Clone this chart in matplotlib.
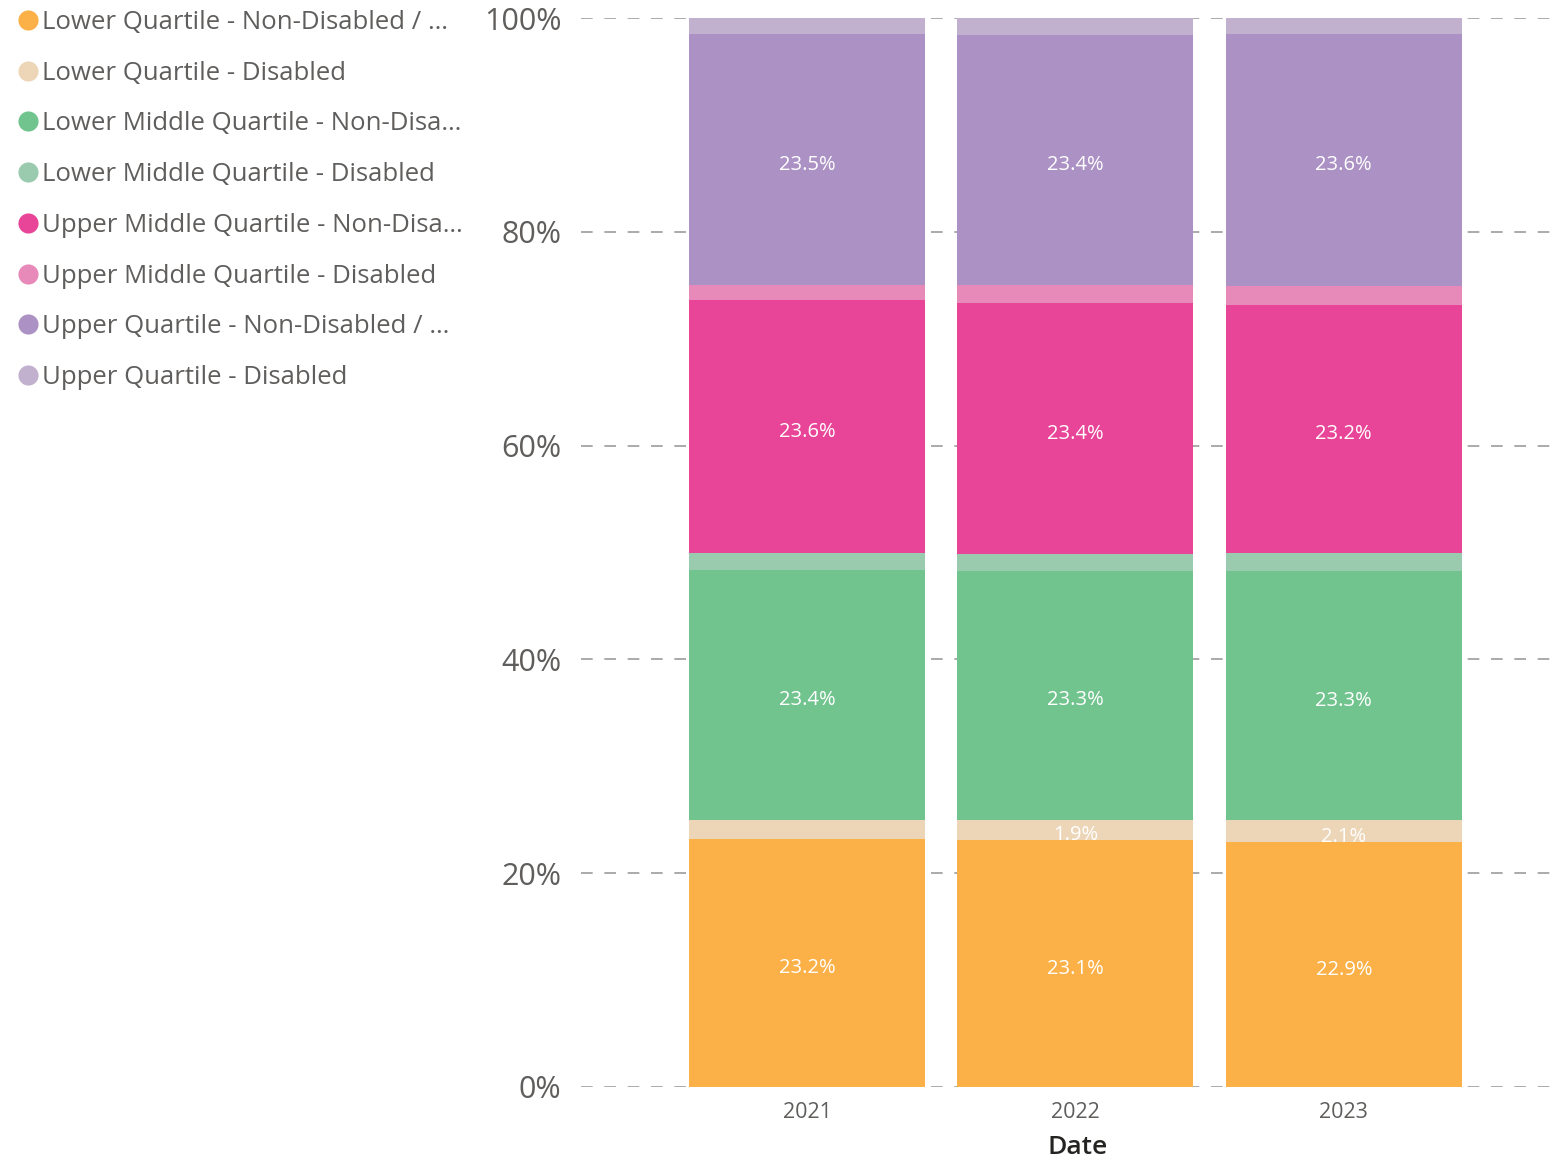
import matplotlib
matplotlib.use("Agg")
import matplotlib.pyplot as plt
from matplotlib.lines import Line2D
from matplotlib.ticker import FixedLocator, FuncFormatter
from matplotlib.transforms import offset_copy
import numpy as np

# Share of staff (%) in each pay quartile, split by disability status
years = ["2021", "2022", "2023"]
series_names = [
    "Lower Quartile - Non-Disabled / …",
    "Lower Quartile - Disabled",
    "Lower Middle Quartile - Non-Disa…",
    "Lower Middle Quartile - Disabled",
    "Upper Middle Quartile - Non-Disa…",
    "Upper Middle Quartile - Disabled",
    "Upper Quartile - Non-Disabled / …",
    "Upper Quartile - Disabled",
]
lower_non_disabled = [23.2, 23.1, 22.9]
lower_disabled = [1.8, 1.9, 2.1]
lower_middle_non_disabled = [23.4, 23.3, 23.3]
lower_middle_disabled = [1.6, 1.6, 1.7]
upper_middle_non_disabled = [23.6, 23.4, 23.2]
upper_middle_disabled = [1.4, 1.7, 1.8]
upper_non_disabled = [23.5, 23.4, 23.6]
upper_disabled = [1.5, 1.6, 1.5]
y_ticks = [0, 20, 40, 60, 80, 100]

series_values = [
    lower_non_disabled, lower_disabled,
    lower_middle_non_disabled, lower_middle_disabled,
    upper_middle_non_disabled, upper_middle_disabled,
    upper_non_disabled, upper_disabled,
]
colors = ["#FBB147", "#EDD6B7", "#72C48F", "#9BCBAE",
          "#E84599", "#E78AB9", "#AC91C4", "#C1B1CE"]
# which series carry value labels (small segments only when they fit)
labelled = [True, True, True, False, True, False, True, False]
min_label_value = 1.85

plt.rcParams["font.family"] = ["Open Sans", "DejaVu Sans"]
text_grey = "#605E5C"

W, H = 1555, 1159
fig = plt.figure(figsize=(W / 100, H / 100), dpi=100)
ax_left, ax_right, ax_top, ax_bottom = 581, 1555, 18, 1087
ax = fig.add_axes([ax_left / W, 1 - ax_bottom / H,
                   (ax_right - ax_left) / W, (ax_bottom - ax_top) / H])

x = np.arange(len(years))
vals = np.array(series_values, dtype=float)
totals = vals.sum(axis=0)
pct = vals / totals * 100
bottom = np.zeros(len(years))
bar_width = 0.879
label_tf = offset_copy(ax.transData, fig=fig, x=0, y=-2, units="points")
for i, name in enumerate(series_names):
    ax.bar(x, pct[i], bottom=bottom, width=bar_width, color=colors[i],
           label=name, zorder=2, linewidth=0)
    if labelled[i]:
        for j in range(len(years)):
            if vals[i, j] >= min_label_value:
                ax.text(x[j], bottom[j] + pct[i, j] / 2, f"{vals[i, j]:.1f}%",
                        ha="center", va="center_baseline", color="white",
                        fontsize=14.5, zorder=3, transform=label_tf)
    bottom += pct[i]

ax.set_ylim(0, 100)
ax.set_xlim(-0.842, 2.787)
ax.yaxis.set_major_locator(FixedLocator(y_ticks))
ax.yaxis.set_major_formatter(FuncFormatter(lambda v, p: f"{v:.0f}%"))
ax.set_xticks(x)
ax.set_xticklabels(years)
ax.tick_params(axis="y", length=0, pad=14, labelsize=22, labelcolor=text_grey)
ax.tick_params(axis="x", length=0, pad=11, labelsize=15.5, labelcolor=text_grey)
for sp in ax.spines.values():
    sp.set_visible(False)
ax.grid(axis="y", color="#AAAAAA", linestyle=(0, (6, 6)), linewidth=1.4, zorder=1)
ax.set_axisbelow(True)

ax.set_xlabel("Date", fontsize=19, color="#252423", fontweight="semibold")
ax.xaxis.set_label_coords((1078 - ax_left) / (ax_right - ax_left),
                          -(1147 - ax_bottom) / (ax_bottom - ax_top), transform=ax.transAxes)
ax.xaxis.label.set_va("center")

handles = [Line2D([], [], marker="o", linestyle="none", markersize=14.5,
                  markerfacecolor=c, markeredgewidth=0) for c in colors]
leg = fig.legend(handles, series_names, loc="upper left",
                 bbox_to_anchor=(-0.0021, 1.0 + 0.0024), frameon=False,
                 fontsize=18.5, labelcolor=text_grey, handletextpad=-0.15,
                 labelspacing=1.0, handlelength=1.4, borderpad=0.0)

fig.savefig("out.png", dpi=100)
